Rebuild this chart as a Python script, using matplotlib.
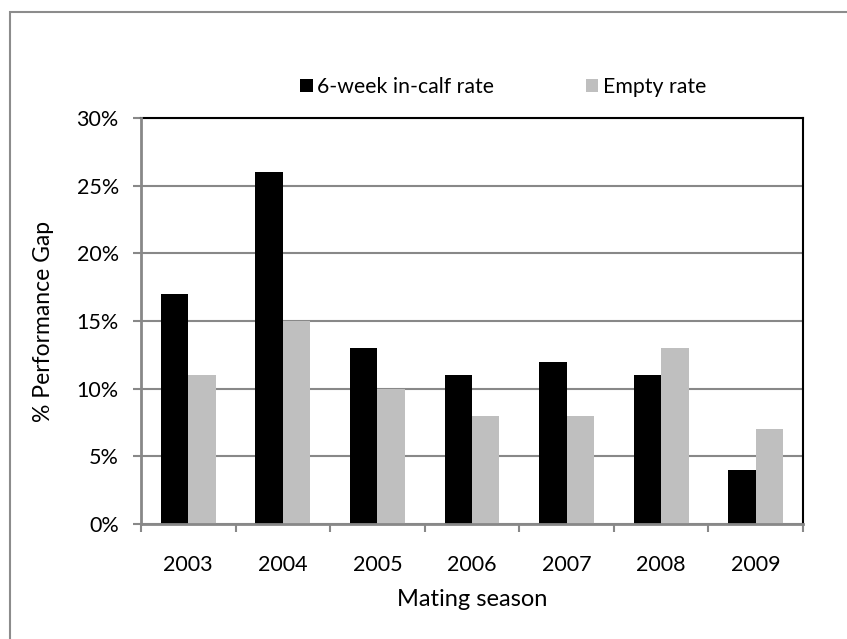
import matplotlib
matplotlib.use("Agg")
import matplotlib.pyplot as plt
import numpy as np
from matplotlib.patches import Rectangle, Patch
from matplotlib.ticker import FixedLocator, FuncFormatter

seasons = ["2003", "2004", "2005", "2006", "2007", "2008", "2009"]
in_calf_rate = [17, 26, 13, 11, 12, 11, 4]
empty_rate = [11, 15, 10, 8, 8, 13, 7]
series_names = ["6-week in-calf rate", "Empty rate"]
y_ticks = [0, 5, 10, 15, 20, 25, 30]

plt.rcParams["font.family"] = ["Lato", "DejaVu Sans"]

W, H = 847, 639
fig = plt.figure(figsize=(W / 100, H / 100), dpi=100)

# outer chart-area frame
fig.patches.append(Rectangle((9.5 / W, -0.05), 1.2, 1 - 11.5 / H + 0.05,
                             transform=fig.transFigure, fill=False,
                             edgecolor="#8c8c8c", linewidth=1.5, zorder=0))

ax = fig.add_axes([141 / W, 1 - 524 / H, (803 - 141) / W, (524 - 118) / H])
ax_w, ax_h = 803 - 141, 524 - 118

x = np.arange(len(seasons))
bw = 0.29
ax.bar(x - bw / 2, in_calf_rate, bw, color="black", zorder=3, label=series_names[0])
ax.bar(x + bw / 2, empty_rate, bw, color="#bfbfbf", zorder=3, label=series_names[1])

ax.set_xlim(-0.5, len(seasons) - 0.5)
ax.set_ylim(0, 30)

ax.yaxis.set_major_locator(FixedLocator(y_ticks))
ax.yaxis.set_major_formatter(FuncFormatter(lambda v, p: f"{v:.0f}%"))
ax.grid(axis="y", color="#888888", linewidth=1.5, zorder=1)

ax.set_xticks(x)
ax.set_xticklabels(seasons)
ax.set_xticks(np.arange(len(seasons) + 1) - 0.5, minor=True)
ax.tick_params(axis="x", which="major", length=0, pad=22, labelsize=15.5)
ax.tick_params(axis="x", which="minor", length=6, width=1.5, color="#888888", direction="out")
ax.tick_params(axis="y", length=6, width=1.5, color="#888888", direction="out", pad=10, labelsize=15.5)

for side in ("top", "right"):
    ax.spines[side].set_color("black")
    ax.spines[side].set_linewidth(1.5)
for side in ("left", "bottom"):
    ax.spines[side].set_color("#888888")
    ax.spines[side].set_linewidth(2)
    ax.spines[side].set_zorder(4)

ax.set_xlabel("Mating season", fontsize=17)
ax.set_ylabel("% Performance Gap", fontsize=16.5)
ax.xaxis.set_label_coords(0.5, (524 - 600) / ax_h)
ax.xaxis.label.set_va("center")
ax.yaxis.set_label_coords((43 - 141) / ax_w, 0.5)
ax.yaxis.label.set_va("center")

handles = [Patch(facecolor="black"), Patch(facecolor="#bfbfbf")]
fig.legend(handles, series_names, loc="center", bbox_to_anchor=(503 / W, 1 - 87 / H),
           ncol=2, frameon=False, fontsize=15.3, handlelength=0.6, handleheight=0.6,
           handletextpad=0.2, columnspacing=4.3)

fig.savefig("out.png", dpi=100)
